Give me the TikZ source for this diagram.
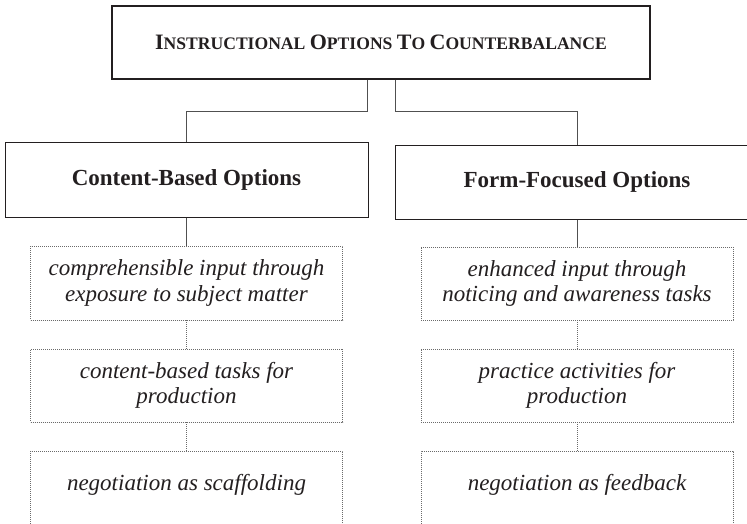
\documentclass[tikz,border=0pt]{standalone}
\usepackage{fontspec}
\setmainfont{Liberation Serif}
\definecolor{ink}{HTML}{231F20}
\definecolor{connc}{HTML}{505050}
\definecolor{dotc}{HTML}{6A6A6A}
\newcommand{\bigsc}{\fontsize{22}{24}\selectfont}
\newcommand{\smsc}{\fontsize{17.6}{20}\selectfont}
\begin{document}
\begin{tikzpicture}[x=1pt,y=-1pt,
  titlebox/.style={draw=ink, line width=1.4pt, minimum width=538, minimum height=73, inner sep=0, text=ink, font=\bfseries},
  catbox/.style={draw=ink, line width=1pt, inner sep=0, text=ink, font=\fontsize{23}{26}\selectfont\bfseries},
  optbox/.style={draw=dotc, line width=0.8pt, dash pattern=on 0.8pt off 1.2pt, minimum width=312, inner sep=0, align=center, text=ink, font=\fontsize{23}{25.5}\selectfont\itshape},
  opttext/.style={inner sep=0, text=ink, font=\fontsize{23}{25.5}\selectfont\itshape},
  conn/.style={draw=connc, line width=0.9pt},
  dotconn/.style={draw=dotc, line width=0.8pt, dash pattern=on 0.8pt off 1.2pt}]
\useasboundingbox (0,0) rectangle (747,523);
\fill[white] (0,0) rectangle (747,523);

\node[titlebox] (title) at (381,42.5) {\bigsc I\smsc NSTRUCTIONAL \bigsc O\smsc PTIONS \bigsc T\smsc O \bigsc C\smsc OUNTERBALANCE};

\node[catbox, minimum width=363, minimum height=75] (lbox) at (186.5,179.5) {Content-Based Options};
\node[catbox, minimum width=364, minimum height=74] (rbox) at (577,182) {Form-Focused Options};

\node[optbox, minimum height=74] (l1) at (186.5,283) {comprehensible input through\\exposure to subject matter};
\node[optbox, minimum height=73] (l2) at (186.5,385.5) {content-based tasks for\\production};
\node[optbox, minimum height=80] (l3) at (186.5,491) {};
\node[opttext] (l3t) at (186.5,485) {negotiation as scaffolding};

\node[optbox, minimum height=73] (r1) at (577,283.5) {enhanced input through\\noticing and awareness tasks};
\node[optbox, minimum height=73] (r2) at (577,385.5) {practice activities for\\production};
\node[optbox, minimum height=80] (r3) at (577,491) {};
\node[opttext] (r3t) at (577,485) {negotiation as feedback};

\draw[conn] ([xshift=-14]title.south) -- ++(0,32) -| (lbox.north);
\draw[conn] ([xshift=14]title.south) -- ++(0,32) -| (rbox.north);
\draw[conn] (lbox.south) -- (l1.north);
\draw[conn] (rbox.south) -- (r1.north);
\draw[dotconn] (l1.south) -- (l2.north);
\draw[dotconn] (l2.south) -- (l3.north);
\draw[dotconn] (r1.south) -- (r2.north);
\draw[dotconn] (r2.south) -- (r3.north);
\end{tikzpicture}
\end{document}
